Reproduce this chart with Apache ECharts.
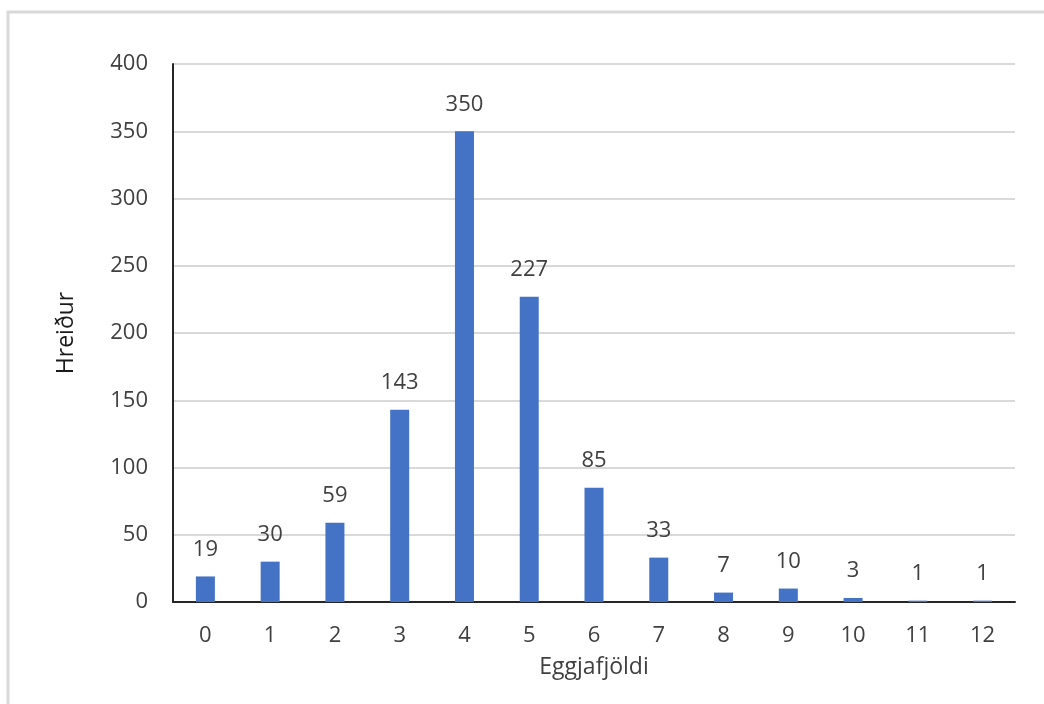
<!DOCTYPE html>
<html><head><meta charset="utf-8">
<script src="https://cdn.jsdelivr.net/npm/echarts@6/dist/echarts.min.js"></script>
<style>html,body{margin:0;padding:0;background:#fff}#c{width:1044px;height:704px}</style>
</head><body><div id="c"></div>
<script>
const categories = ['0','1','2','3','4','5','6','7','8','9','10','11','12'];
const values = [19,30,59,143,350,227,85,33,7,10,3,1,1];
const xTitle = 'Eggjafjöldi';
const yTitle = 'Hreiður';
const FONT = '"Open Sans", "Noto Sans", sans-serif';
const chart = echarts.init(document.getElementById('c'), null, {renderer:'canvas'});
chart.setOption({
  animation:false,
  backgroundColor:'#fff',
  textStyle:{fontFamily:FONT},
  graphic:[{type:'rect',shape:{x:8,y:12,width:1100,height:800},style:{fill:null,stroke:'#d9d9d9',lineWidth:3},silent:true}],
  grid:{left:173,right:29,top:64,bottom:102,containLabel:false},
  xAxis:{type:'category',data:categories,
    name:xTitle,nameLocation:'middle',nameGap:54,
    nameTextStyle:{fontSize:23,color:'#404040',fontFamily:FONT},
    axisLine:{lineStyle:{color:'#262626',width:2}},
    axisTick:{show:false},
    axisLabel:{fontSize:22,color:'#404040',margin:23,fontFamily:FONT}},
  yAxis:{type:'value',min:0,max:400,interval:50,
    name:yTitle,nameLocation:'middle',nameGap:95,nameRotate:90,
    nameTextStyle:{fontSize:23,color:'#1a1a1a',fontFamily:FONT},
    axisLine:{show:true,lineStyle:{color:'#262626',width:2}},
    axisTick:{show:false},
    axisLabel:{fontSize:22,color:'#404040',margin:25,fontFamily:FONT},
    splitLine:{lineStyle:{color:'#d9d9d9',width:2}}},
  series:[{type:'bar',data:values,barWidth:19,
    itemStyle:{color:'#4472C4'},
    label:{show:true,position:'top',distance:16,fontSize:22,color:'#404040',fontFamily:FONT}}]
});
</script></body></html>
